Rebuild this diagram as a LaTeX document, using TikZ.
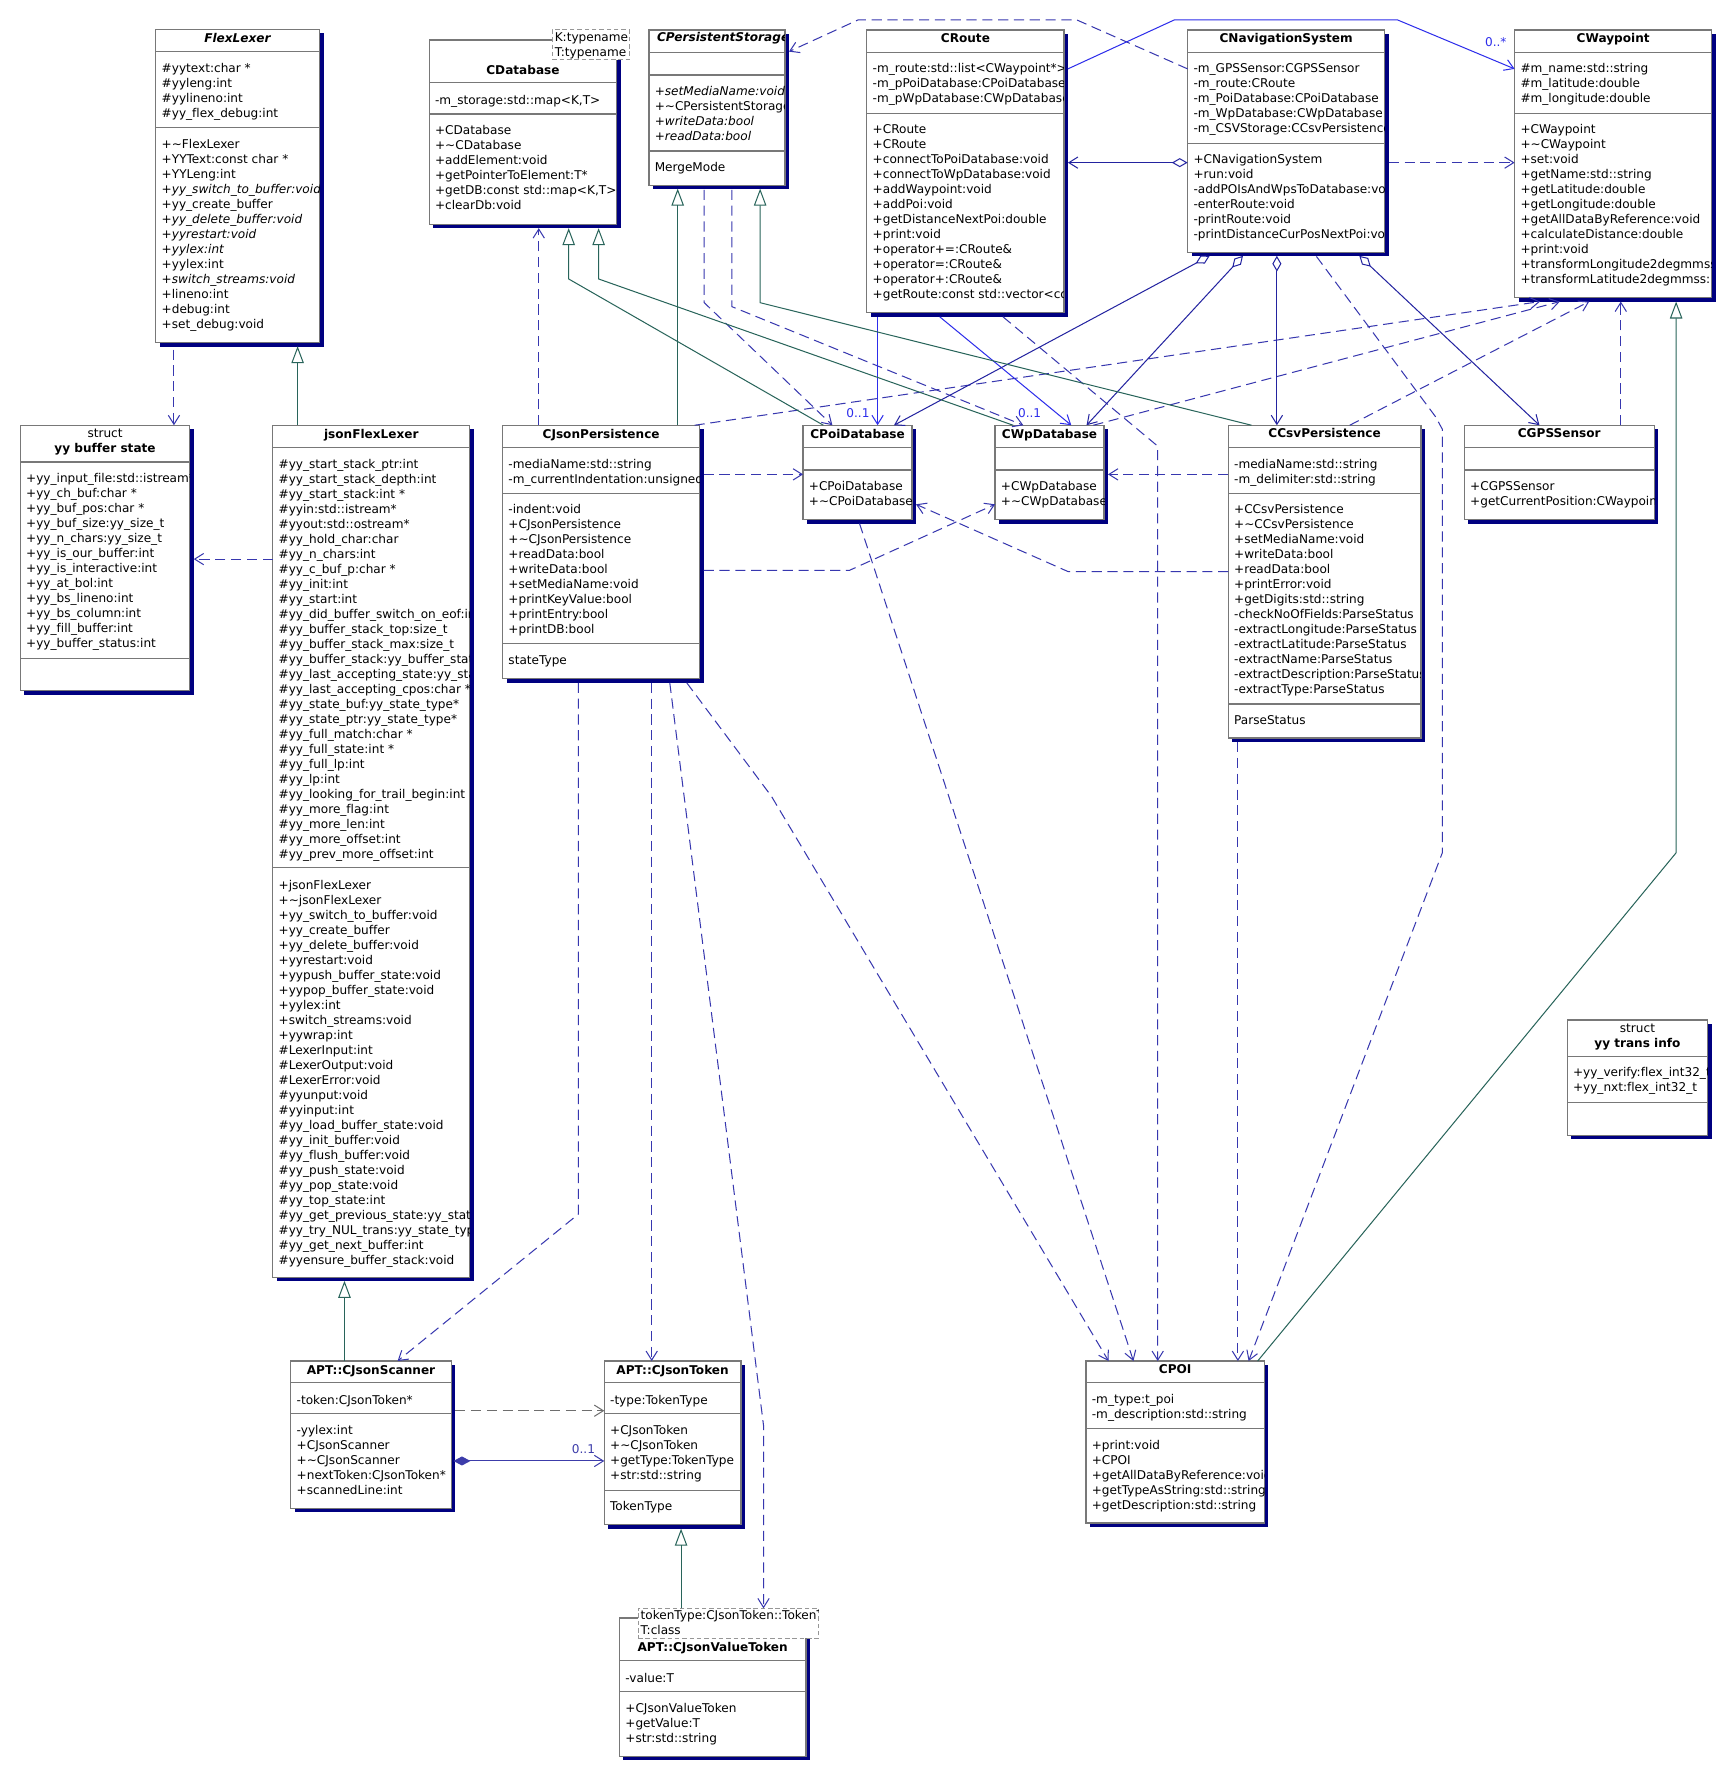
\documentclass[tikz,border=0pt]{standalone}
\usepackage{fontspec}
\setmainfont{DejaVu Sans}[Ligatures=NoCommon]
\usetikzlibrary{arrows.meta,shadows}
\definecolor{cBox}   {RGB}{120,120,120}
\definecolor{cTmpl}  {RGB}{150,150,150}
\definecolor{cShadow}{RGB}{0,  0,  128}
\definecolor{cDep}   {RGB}{55, 55, 175}
\definecolor{cAsc}   {RGB}{45, 45, 235}
\definecolor{cAgg}   {RGB}{35, 35, 160}
\definecolor{cComp}  {RGB}{60, 60, 170}
\definecolor{cGen}   {RGB}{40, 100, 90}
\definecolor{cGray}  {RGB}{110,110,110}
\newcommand{\umlfont}{\fontsize{10.7}{13.28}\selectfont}
\tikzset{
  cls/.style  = {draw=cBox, fill=white, line width=1.1pt, anchor=north west,
                 inner sep=0pt, outer sep=0pt,
                 general shadow={fill=cShadow, shadow xshift=3.5pt, shadow yshift=-3.5pt}},
  tmpl/.style = {draw=cTmpl, fill=white, line width=1pt, dash pattern=on 4pt off 2.5pt,
                 anchor=north west, inner sep=0pt, outer sep=0pt},
  sep/.style  = {draw=cBox, line width=1.1pt},
  ttl/.style  = {font=\umlfont\bfseries, anchor=base, inner sep=0pt},
  mem/.style  = {font=\umlfont, anchor=north west, align=left, inner sep=0pt},
  lbl/.style  = {font=\umlfont, text=cAsc, inner sep=0pt, anchor=base east},
  dep/.style  = {draw=cDep, line width=0.9pt, dash pattern=on 9pt off 5pt,
                 -{Straight Barb[length=8pt,width=10pt]}},
  asc/.style  = {draw=cAsc, line width=0.9pt, -{Straight Barb[length=8pt,width=10pt]}},
  agg/.style  = {draw=cAgg, line width=0.9pt,
                 {Diamond[open,length=14pt,width=8pt]}-{Straight Barb[length=8pt,width=10pt]}},
  comp/.style = {draw=cComp, line width=0.9pt,
                 {Diamond[length=15pt,width=8pt]}-{Straight Barb[length=8pt,width=10pt]}},
  gen/.style  = {draw=cGen, line width=0.9pt, -{Triangle[open,length=15pt,width=11pt]}},
}

\begin{document}
\begin{tikzpicture}[x=1pt, y=-1pt]

\fill[white] (0,0) rectangle (1528,1568);
\useasboundingbox (0,0) rectangle (1528,1568);

%% ─── FlexLexer ───────────────────────────────────────────────────
\node[cls, minimum width=145pt, minimum height=277.5pt] (fl) at (138,26) {};
\draw[sep] ([yshift=-19.8pt]fl.north west) -- ([yshift=-19.8pt]fl.north east);
\draw[sep] ([yshift=-87.2pt]fl.north west) -- ([yshift=-87.2pt]fl.north east);
\begin{scope}
  \clip (fl.north west) rectangle (fl.south east);
  \node[ttl] (fl-name) at ([yshift=-11.8pt]fl.north) {\textit{FlexLexer}};
  \node[mem] (fl-attr) at ([xshift=5pt,yshift=-28.5pt]fl.north west)
    {\strut\#yytext:char *\\\#yyleng:int\\\#yylineno:int\\\#yy\_flex\_debug:int};
  \node[mem] (fl-ops) at ([xshift=5pt,yshift=-96pt]fl.north west)
    {\strut+\textasciitilde FlexLexer\\+YYText:const char *\\+YYLeng:int\\
     +\textit{yy\_switch\_to\_buffer:void}\\+yy\_create\_buffer\\
     +\textit{yy\_delete\_buffer:void}\\+\textit{yyrestart:void}\\+\textit{yylex:int}\\
     +yylex:int\\+\textit{switch\_streams:void}\\+lineno:int\\+debug:int\\+set\_debug:void};
\end{scope}

%% ─── struct yy buffer state ─────────────────────────────────────
\node[cls, minimum width=150pt, minimum height=235pt] (ybs) at (18,376.5) {};
\draw[sep] ([yshift=-32.5pt]ybs.north west) -- ([yshift=-32.5pt]ybs.north east);
\draw[sep] ([yshift=-206.3pt]ybs.north west) -- ([yshift=-206.3pt]ybs.north east);
\begin{scope}
  \clip (ybs.north west) rectangle (ybs.south east);
  \node[ttl, font=\umlfont] (ybs-kind) at ([yshift=-10.5pt]ybs.north) {struct};
  \node[ttl] (ybs-name) at ([yshift=-23.7pt]ybs.north) {yy buffer state};
  \node[mem] (ybs-attr) at ([xshift=5pt,yshift=-41.2pt]ybs.north west)
    {\strut+yy\_input\_file:std::istream*\\+yy\_ch\_buf:char *\\+yy\_buf\_pos:char *\\
     +yy\_buf\_size:yy\_size\_t\\+yy\_n\_chars:yy\_size\_t\\+yy\_is\_our\_buffer:int\\
     +yy\_is\_interactive:int\\+yy\_at\_bol:int\\+yy\_bs\_lineno:int\\+yy\_bs\_column:int\\
     +yy\_fill\_buffer:int\\+yy\_buffer\_status:int};
\end{scope}

%% ─── CDatabase (template) ───────────────────────────────────────
\node[cls, minimum width=166pt, minimum height=163pt] (db) at (380,35.5) {};
\draw[sep] ([yshift=-37.7pt]db.north west) -- ([yshift=-37.7pt]db.north east);
\draw[sep] ([yshift=-65.5pt]db.north west) -- ([yshift=-65.5pt]db.north east);
\begin{scope}
  \clip (db.north west) rectangle (db.south east);
  \node[ttl] (db-name) at ([yshift=-30.3pt]db.north) {CDatabase};
  \node[mem] (db-attr) at ([xshift=5pt,yshift=-47.2pt]db.north west)
    {\strut-m\_storage:std::map<K,T>};
  \node[mem] (db-ops) at ([xshift=5pt,yshift=-74.4pt]db.north west)
    {\strut+CDatabase\\+\textasciitilde CDatabase\\+addElement:void\\
     +getPointerToElement:T*\\+getDB:const std::map<K,T>\\+clearDb:void};
\end{scope}
\node[tmpl, minimum width=68pt, minimum height=26.5pt] (dbT) at (489,26.5) {};
\begin{scope}
  \clip (dbT.north west) rectangle (dbT.south east);
  \node[mem] (dbT-par) at ([xshift=2pt,yshift=-0.8pt]dbT.north west)
    {\strut K:typename\\T:typename};
\end{scope}

%% ─── CPersistentStorage ─────────────────────────────────────────
\node[cls, minimum width=120.5pt, minimum height=137.5pt] (ps) at (574.5,26.5) {};
\draw[sep] ([yshift=-19.8pt]ps.north west) -- ([yshift=-19.8pt]ps.north east);
\draw[sep] ([yshift=-39.9pt]ps.north west) -- ([yshift=-39.9pt]ps.north east);
\draw[sep] ([yshift=-107.2pt]ps.north west) -- ([yshift=-107.2pt]ps.north east);
\begin{scope}
  \clip (ps.north west) rectangle (ps.south east);
  \node[ttl, anchor=base west] (ps-name) at ([xshift=7pt,yshift=-10.3pt]ps.north west)
    {\textit{CPersistentStorage}};
  \node[mem] (ps-ops) at ([xshift=5pt,yshift=-48.2pt]ps.north west)
    {\strut+\textit{setMediaName:void}\\+\textasciitilde CPersistentStorage\\
     +\textit{writeData:bool}\\+\textit{readData:bool}};
  \node[mem] (ps-enum) at ([xshift=5pt,yshift=-115.7pt]ps.north west) {\strut MergeMode};
\end{scope}

%% ─── CRoute ──────────────────────────────────────────────────────
\node[cls, minimum width=174.5pt, minimum height=250.5pt] (rt) at (767.5,26.5) {};
\draw[sep] ([yshift=-19.8pt]rt.north west) -- ([yshift=-19.8pt]rt.north east);
\draw[sep] ([yshift=-73.8pt]rt.north west) -- ([yshift=-73.8pt]rt.north east);
\begin{scope}
  \clip (rt.north west) rectangle (rt.south east);
  \node[ttl] (rt-name) at ([yshift=-11.3pt]rt.north) {CRoute};
  \node[mem] (rt-attr) at ([xshift=5pt,yshift=-28.5pt]rt.north west)
    {\strut-m\_route:std::list<CWaypoint*>\\-m\_pPoiDatabase:CPoiDatabase*\\
     -m\_pWpDatabase:CWpDatabase*};
  \node[mem] (rt-ops) at ([xshift=5pt,yshift=-82.2pt]rt.north west)
    {\strut+CRoute\\+CRoute\\+connectToPoiDatabase:void\\+connectToWpDatabase:void\\
     +addWaypoint:void\\+addPoi:void\\+getDistanceNextPoi:double\\+print:void\\
     +operator+=:CRoute\&\\+operator=:CRoute\&\\+operator+:CRoute\&\\
     +getRoute:const std::vector<co};
\end{scope}

%% ─── CNavigationSystem ──────────────────────────────────────────
\node[cls, minimum width=174.5pt, minimum height=197pt] (ns) at (1051.5,26.5) {};
\draw[sep] ([yshift=-19.8pt]ns.north west) -- ([yshift=-19.8pt]ns.north east);
\draw[sep] ([yshift=-100.4pt]ns.north west) -- ([yshift=-100.4pt]ns.north east);
\begin{scope}
  \clip (ns.north west) rectangle (ns.south east);
  \node[ttl] (ns-name) at ([yshift=-11.3pt]ns.north) {CNavigationSystem};
  \node[mem] (ns-attr) at ([xshift=5pt,yshift=-28.5pt]ns.north west)
    {\strut-m\_GPSSensor:CGPSSensor\\-m\_route:CRoute\\-m\_PoiDatabase:CPoiDatabase\\
     -m\_WpDatabase:CWpDatabase\\-m\_CSVStorage:CCsvPersistence};
  \node[mem] (ns-ops) at ([xshift=5pt,yshift=-108.7pt]ns.north west)
    {\strut+CNavigationSystem\\+run:void\\-addPOIsAndWpsToDatabase:void\\
     -enterRoute:void\\-printRoute:void\\-printDistanceCurPosNextPoi:void};
\end{scope}

%% ─── CWaypoint ───────────────────────────────────────────────────
\node[cls, minimum width=174.5pt, minimum height=237pt] (wp) at (1341,26.5) {};
\draw[sep] ([yshift=-19.8pt]wp.north west) -- ([yshift=-19.8pt]wp.north east);
\draw[sep] ([yshift=-73.8pt]wp.north west) -- ([yshift=-73.8pt]wp.north east);
\begin{scope}
  \clip (wp.north west) rectangle (wp.south east);
  \node[ttl] (wp-name) at ([yshift=-11.3pt]wp.north) {CWaypoint};
  \node[mem] (wp-attr) at ([xshift=5pt,yshift=-28.5pt]wp.north west)
    {\strut\#m\_name:std::string\\\#m\_latitude:double\\\#m\_longitude:double};
  \node[mem] (wp-ops) at ([xshift=5pt,yshift=-82.2pt]wp.north west)
    {\strut+CWaypoint\\+\textasciitilde CWaypoint\\+set:void\\+getName:std::string\\
     +getLatitude:double\\+getLongitude:double\\+getAllDataByReference:void\\
     +calculateDistance:double\\+print:void\\+transformLongitude2degmmss\\
     +transformLatitude2degmmss:};
\end{scope}

%% ─── jsonFlexLexer ───────────────────────────────────────────────
\node[cls, minimum width=174.5pt, minimum height=754.5pt] (jfl) at (241.5,376.5) {};
\draw[sep] ([yshift=-19.5pt]jfl.north west) -- ([yshift=-19.5pt]jfl.north east);
\draw[sep] ([yshift=-391.3pt]jfl.north west) -- ([yshift=-391.3pt]jfl.north east);
\begin{scope}
  \clip (jfl.north west) rectangle (jfl.south east);
  \node[ttl] (jfl-name) at ([yshift=-11.5pt]jfl.north) {jsonFlexLexer};
  \node[mem] (jfl-attr) at ([xshift=5pt,yshift=-28.5pt]jfl.north west)
    {\strut\#yy\_start\_stack\_ptr:int\\\#yy\_start\_stack\_depth:int\\
     \#yy\_start\_stack:int *\\\#yyin:std::istream*\\\#yyout:std::ostream*\\
     \#yy\_hold\_char:char\\\#yy\_n\_chars:int\\\#yy\_c\_buf\_p:char *\\\#yy\_init:int\\
     \#yy\_start:int\\\#yy\_did\_buffer\_switch\_on\_eof:int\\
     \#yy\_buffer\_stack\_top:size\_t\\\#yy\_buffer\_stack\_max:size\_t\\
     \#yy\_buffer\_stack:yy\_buffer\_state\\\#yy\_last\_accepting\_state:yy\_state\\
     \#yy\_last\_accepting\_cpos:char *\\\#yy\_state\_buf:yy\_state\_type*\\
     \#yy\_state\_ptr:yy\_state\_type*\\\#yy\_full\_match:char *\\\#yy\_full\_state:int *\\
     \#yy\_full\_lp:int\\\#yy\_lp:int\\\#yy\_looking\_for\_trail\_begin:int\\
     \#yy\_more\_flag:int\\\#yy\_more\_len:int\\\#yy\_more\_offset:int\\
     \#yy\_prev\_more\_offset:int};
  \node[mem] (jfl-ops) at ([xshift=5pt,yshift=-401.2pt]jfl.north west)
    {\strut+jsonFlexLexer\\+\textasciitilde jsonFlexLexer\\+yy\_switch\_to\_buffer:void\\
     +yy\_create\_buffer\\+yy\_delete\_buffer:void\\+yyrestart:void\\
     +yypush\_buffer\_state:void\\+yypop\_buffer\_state:void\\+yylex:int\\
     +switch\_streams:void\\+yywrap:int\\\#LexerInput:int\\\#LexerOutput:void\\
     \#LexerError:void\\\#yyunput:void\\\#yyinput:int\\\#yy\_load\_buffer\_state:void\\
     \#yy\_init\_buffer:void\\\#yy\_flush\_buffer:void\\\#yy\_push\_state:void\\
     \#yy\_pop\_state:void\\\#yy\_top\_state:int\\\#yy\_get\_previous\_state:yy\_state\\
     \#yy\_try\_NUL\_trans:yy\_state\_type\\\#yy\_get\_next\_buffer:int\\
     \#yyensure\_buffer\_stack:void};
\end{scope}

%% ─── CJsonPersistence ────────────────────────────────────────────
\node[cls, minimum width=174.5pt, minimum height=224.5pt] (jp) at (445,376.5) {};
\draw[sep] ([yshift=-19.5pt]jp.north west) -- ([yshift=-19.5pt]jp.north east);
\draw[sep] ([yshift=-60.2pt]jp.north west) -- ([yshift=-60.2pt]jp.north east);
\draw[sep] ([yshift=-193.5pt]jp.north west) -- ([yshift=-193.5pt]jp.north east);
\begin{scope}
  \clip (jp.north west) rectangle (jp.south east);
  \node[ttl] (jp-name) at ([yshift=-11.5pt]jp.north) {CJsonPersistence};
  \node[mem] (jp-attr) at ([xshift=5pt,yshift=-28.5pt]jp.north west)
    {\strut-mediaName:std::string\\-m\_currentIndentation:unsigned};
  \node[mem] (jp-ops) at ([xshift=5pt,yshift=-68.9pt]jp.north west)
    {\strut-indent:void\\+CJsonPersistence\\+\textasciitilde CJsonPersistence\\
     +readData:bool\\+writeData:bool\\+setMediaName:void\\+printKeyValue:bool\\
     +printEntry:bool\\+printDB:bool};
  \node[mem] (jp-enum) at ([xshift=5pt,yshift=-202.6pt]jp.north west) {\strut stateType};
\end{scope}

%% ─── CPoiDatabase / CWpDatabase ─────────────────────────────────
\node[cls, minimum width=96.5pt, minimum height=83.5pt] (pdb) at (711,376.5) {};
\draw[sep] ([yshift=-19.5pt]pdb.north west) -- ([yshift=-19.5pt]pdb.north east);
\draw[sep] ([yshift=-39.6pt]pdb.north west) -- ([yshift=-39.6pt]pdb.north east);
\begin{scope}
  \clip (pdb.north west) rectangle (pdb.south east);
  \node[ttl] (pdb-name) at ([yshift=-11.5pt]pdb.north) {CPoiDatabase};
  \node[mem] (pdb-ops) at ([xshift=5pt,yshift=-48.5pt]pdb.north west)
    {\strut+CPoiDatabase\\+\textasciitilde CPoiDatabase};
\end{scope}

\node[cls, minimum width=96.5pt, minimum height=83.5pt] (wdb) at (881,376.5) {};
\draw[sep] ([yshift=-19.5pt]wdb.north west) -- ([yshift=-19.5pt]wdb.north east);
\draw[sep] ([yshift=-39.6pt]wdb.north west) -- ([yshift=-39.6pt]wdb.north east);
\begin{scope}
  \clip (wdb.north west) rectangle (wdb.south east);
  \node[ttl] (wdb-name) at ([yshift=-11.5pt]wdb.north) {CWpDatabase};
  \node[mem] (wdb-ops) at ([xshift=5pt,yshift=-48.5pt]wdb.north west)
    {\strut+CWpDatabase\\+\textasciitilde CWpDatabase};
\end{scope}

%% ─── CCsvPersistence ─────────────────────────────────────────────
\node[cls, minimum width=170.5pt, minimum height=277pt] (csv) at (1087.5,376.5) {};
\draw[sep] ([yshift=-19.5pt]csv.north west) -- ([yshift=-19.5pt]csv.north east);
\draw[sep] ([yshift=-60.2pt]csv.north west) -- ([yshift=-60.2pt]csv.north east);
\draw[sep] ([yshift=-246.7pt]csv.north west) -- ([yshift=-246.7pt]csv.north east);
\begin{scope}
  \clip (csv.north west) rectangle (csv.south east);
  \node[ttl] (csv-name) at ([yshift=-11.2pt]csv.north) {CCsvPersistence};
  \node[mem] (csv-attr) at ([xshift=5pt,yshift=-28.5pt]csv.north west)
    {\strut-mediaName:std::string\\-m\_delimiter:std::string};
  \node[mem] (csv-ops) at ([xshift=5pt,yshift=-68.9pt]csv.north west)
    {\strut+CCsvPersistence\\+\textasciitilde CCsvPersistence\\+setMediaName:void\\
     +writeData:bool\\+readData:bool\\+printError:void\\+getDigits:std::string\\
     -checkNoOfFields:ParseStatus\\-extractLongitude:ParseStatus\\
     -extractLatitude:ParseStatus\\-extractName:ParseStatus\\
     -extractDescription:ParseStatus\\-extractType:ParseStatus};
  \node[mem] (csv-enum) at ([xshift=5pt,yshift=-255.7pt]csv.north west) {\strut ParseStatus};
\end{scope}

%% ─── CGPSSensor ──────────────────────────────────────────────────
\node[cls, minimum width=168pt, minimum height=83.5pt] (gps) at (1296.5,376.5) {};
\draw[sep] ([yshift=-19.5pt]gps.north west) -- ([yshift=-19.5pt]gps.north east);
\draw[sep] ([yshift=-39.6pt]gps.north west) -- ([yshift=-39.6pt]gps.north east);
\begin{scope}
  \clip (gps.north west) rectangle (gps.south east);
  \node[ttl] (gps-name) at ([yshift=-11.2pt]gps.north) {CGPSSensor};
  \node[mem] (gps-ops) at ([xshift=5pt,yshift=-48.5pt]gps.north west)
    {\strut+CGPSSensor\\+getCurrentPosition:CWaypoint};
\end{scope}

%% ─── struct yy trans info ───────────────────────────────────────
\node[cls, minimum width=124.5pt, minimum height=102pt] (yti) at (1387.5,903) {};
\draw[sep] ([yshift=-32.5pt]yti.north west) -- ([yshift=-32.5pt]yti.north east);
\draw[sep] ([yshift=-73.1pt]yti.north west) -- ([yshift=-73.1pt]yti.north east);
\begin{scope}
  \clip (yti.north west) rectangle (yti.south east);
  \node[ttl, font=\umlfont] (yti-kind) at ([yshift=-10.8pt]yti.north) {struct};
  \node[ttl] (yti-name) at ([yshift=-24pt]yti.north) {yy trans info};
  \node[mem] (yti-attr) at ([xshift=5pt,yshift=-41pt]yti.north west)
    {\strut+yy\_verify:flex\_int32\_t\\+yy\_nxt:flex\_int32\_t};
\end{scope}

%% ─── CPOI ────────────────────────────────────────────────────────
\node[cls, minimum width=158pt, minimum height=143.5pt] (poi) at (961.5,1205) {};
\draw[sep] ([yshift=-19.3pt]poi.north west) -- ([yshift=-19.3pt]poi.north east);
\draw[sep] ([yshift=-60pt]poi.north west) -- ([yshift=-60pt]poi.north east);
\begin{scope}
  \clip (poi.north west) rectangle (poi.south east);
  \node[ttl] (poi-name) at ([yshift=-11.4pt]poi.north) {CPOI};
  \node[mem] (poi-attr) at ([xshift=5pt,yshift=-28.4pt]poi.north west)
    {\strut-m\_type:t\_poi\\-m\_description:std::string};
  \node[mem] (poi-ops) at ([xshift=5pt,yshift=-68.9pt]poi.north west)
    {\strut+print:void\\+CPOI\\+getAllDataByReference:void\\
     +getTypeAsString:std::string\\+getDescription:std::string};
\end{scope}

%% ─── APT::CJsonScanner ───────────────────────────────────────────
\node[cls, minimum width=142pt, minimum height=130.5pt] (sc) at (257.5,1205) {};
\draw[sep] ([yshift=-19.3pt]sc.north west) -- ([yshift=-19.3pt]sc.north east);
\draw[sep] ([yshift=-46.2pt]sc.north west) -- ([yshift=-46.2pt]sc.north east);
\begin{scope}
  \clip (sc.north west) rectangle (sc.south east);
  \node[ttl] (sc-name) at ([yshift=-11.6pt]sc.north) {APT::CJsonScanner};
  \node[mem] (sc-attr) at ([xshift=5pt,yshift=-28.6pt]sc.north west)
    {\strut-token:CJsonToken*};
  \node[mem] (sc-ops) at ([xshift=5pt,yshift=-55.7pt]sc.north west)
    {\strut-yylex:int\\+CJsonScanner\\+\textasciitilde CJsonScanner\\
     +nextToken:CJsonToken*\\+scannedLine:int};
\end{scope}

%% ─── APT::CJsonToken ─────────────────────────────────────────────
\node[cls, minimum width=121pt, minimum height=145pt] (tk) at (535,1205) {};
\draw[sep] ([yshift=-19.3pt]tk.north west) -- ([yshift=-19.3pt]tk.north east);
\draw[sep] ([yshift=-46.2pt]tk.north west) -- ([yshift=-46.2pt]tk.north east);
\draw[sep] ([yshift=-114.6pt]tk.north west) -- ([yshift=-114.6pt]tk.north east);
\begin{scope}
  \clip (tk.north west) rectangle (tk.south east);
  \node[ttl] (tk-name) at ([yshift=-11.6pt]tk.north) {APT::CJsonToken};
  \node[mem] (tk-attr) at ([xshift=5pt,yshift=-28.6pt]tk.north west)
    {\strut-type:TokenType};
  \node[mem] (tk-ops) at ([xshift=5pt,yshift=-55.7pt]tk.north west)
    {\strut+CJsonToken\\+\textasciitilde CJsonToken\\+getType:TokenType\\+str:std::string};
  \node[mem] (tk-enum) at ([xshift=5pt,yshift=-123pt]tk.north west) {\strut TokenType};
\end{scope}

%% ─── APT::CJsonValueToken (template) ─────────────────────────────
\node[cls, minimum width=165pt, minimum height=122.5pt] (vt) at (548.5,1432.5) {};
\draw[sep] ([yshift=-37.7pt]vt.north west) -- ([yshift=-37.7pt]vt.north east);
\draw[sep] ([yshift=-65.4pt]vt.north west) -- ([yshift=-65.4pt]vt.north east);
\begin{scope}
  \clip (vt.north west) rectangle (vt.south east);
  \node[ttl] (vt-name) at ([yshift=-29.7pt]vt.north) {APT::CJsonValueToken};
  \node[mem] (vt-attr) at ([xshift=5pt,yshift=-47.5pt]vt.north west) {\strut-value:T};
  \node[mem] (vt-ops) at ([xshift=5pt,yshift=-74.3pt]vt.north west)
    {\strut+CJsonValueToken\\+getValue:T\\+str:std::string};
\end{scope}
\node[tmpl, minimum width=160pt, minimum height=26.5pt] (vtT) at (565,1424) {};
\begin{scope}
  \clip (vtT.north west) rectangle (vtT.south east);
  \node[mem] (vtT-par) at ([xshift=2pt,yshift=-0.3pt]vtT.north west)
    {\strut tokenType:CJsonToken::TokenT\\T:class};
\end{scope}

%% ─── dependencies ────────────────────────────────────────────────
\draw[dep] ([xshift=16pt,yshift=-6pt]fl.south west) -- ([xshift=136pt]ybs.north west);
\draw[dep] ([yshift=-118.5pt]jfl.north west) -- ([xshift=3.5pt,yshift=-118.5pt]ybs.north east);
\draw[dep] ([xshift=32pt]jp.north west) -- ([xshift=97pt,yshift=-3.5pt]db.south west);
\draw[dep] ([xshift=49pt,yshift=-4pt]ps.south west) -- ++(0,100) -- ([xshift=26pt]pdb.north west);
\draw[dep] ([xshift=73.5pt,yshift=-4pt]ps.south west) -- ++(0,103.5) -- ([xshift=25pt]wdb.north west);
\draw[dep] ([yshift=-34.5pt]ns.north west) -- ++(-98.5,-43.5) -- ++(-193,0)
  -- ([xshift=3.5pt,yshift=-19.2pt]ps.north east);
\draw[dep] ([xshift=3.5pt,yshift=-117.5pt]ns.north east) -- ([yshift=-117.5pt]wp.north west);
\draw[dep] ([xshift=114pt,yshift=-3.5pt]ns.south west) -- ++(105.5,142) -- ++(6,11)
  -- ++(0,375) -- ([xshift=144pt]poi.north west);
\draw[dep] ([xshift=120.5pt,yshift=-3.5pt]rt.south west) -- ++(137,114.5)
  -- ([xshift=63.5pt]poi.north west);
\draw[dep] ([xshift=50pt,yshift=-3.5pt]pdb.south west) -- ([xshift=42pt]poi.north west);
\draw[dep] ([xshift=8.5pt,yshift=-3.5pt]csv.south west) -- ([xshift=134.5pt]poi.north west);
\draw[dep] ([xshift=163pt,yshift=-3.5pt]jp.south west) -- ++(75,100.5) -- ([xshift=20pt]poi.north west);
\draw[dep] ([xshift=67pt,yshift=-3.5pt]jp.south west) -- ++(0,470.5) -- ([xshift=94.5pt]sc.north west);
\draw[dep] ([xshift=132pt,yshift=-3.5pt]jp.south west) -- ([xshift=42pt]tk.north west);
\draw[dep] ([xshift=148pt,yshift=-3.5pt]jp.south west) -- ++(83,657.5) -- ([xshift=111pt]vtT.north west);
\draw[dep] ([xshift=3.5pt,yshift=-43.5pt]jp.north east) -- ([yshift=-43.5pt]pdb.north west);
\draw[dep] ([xshift=3.5pt,yshift=-128.5pt]jp.north east) -- ++(129,0) -- ([yshift=-70pt]wdb.north west);
\draw[dep] ([yshift=-129.5pt]csv.north west) -- ++(-142,0) -- ([xshift=3.5pt,yshift=-70pt]pdb.north east);
\draw[dep] ([yshift=-43.5pt]csv.north west) -- ([xshift=3.5pt,yshift=-43.5pt]wdb.north east);
\draw[dep] ([xshift=170pt]jp.north west) -- ([xshift=22.5pt,yshift=-3.5pt]wp.south west);
\draw[dep] ([xshift=87pt]wdb.north west) -- ([xshift=40pt,yshift=-3.5pt]wp.south west);
\draw[dep] ([xshift=107.5pt]csv.north west) -- ([xshift=66pt,yshift=-3.5pt]wp.south west);
\draw[dep] ([xshift=138.5pt]gps.north west) -- ([xshift=94pt,yshift=-3.5pt]wp.south west);
\draw[dep, draw=cGray] ([xshift=3.5pt,yshift=-44pt]sc.north east) -- ([yshift=-44pt]tk.north west);

%% ─── associations ────────────────────────────────────────────────
\draw[asc] ([xshift=3.5pt,yshift=-34.5pt]rt.north east) -- ++(94.5,-43.5) -- ++(197,0)
  -- ([yshift=-34.5pt]wp.north west);
\draw[asc] ([xshift=9.5pt,yshift=-3.5pt]rt.south west) -- ([xshift=66pt]pdb.north west);
\draw[asc] ([xshift=64.5pt,yshift=-3.5pt]rt.south west) -- ([xshift=67.5pt]wdb.north west);
\draw[comp] ([xshift=2pt,yshift=-88.5pt]sc.north east) -- ([yshift=-88.5pt]tk.north west);

\node[lbl] (wp-mult) at ([xshift=-7pt,yshift=-15pt]wp.north west) {0..*};
\node[lbl] (pdb-mult) at ([xshift=59pt,yshift=6.5pt]pdb.north west) {0..1};
\node[lbl] (wdb-mult) at ([xshift=41pt,yshift=6.5pt]wdb.north west) {0..1};
\node[lbl, text=cComp] (tk-mult) at ([xshift=-8pt,yshift=-81.5pt]tk.north west) {0..1};

%% ─── aggregations (CNavigationSystem) ────────────────────────────
\draw[agg] ([yshift=-117.5pt]ns.north west) -- ([xshift=3.5pt,yshift=-117.5pt]rt.north east);
\draw[agg] ([xshift=19.5pt,yshift=-3pt]ns.south west) -- ([xshift=80.5pt]pdb.north west);
\draw[agg] ([xshift=49pt,yshift=-3pt]ns.south west) -- ([xshift=81pt]wdb.north west);
\draw[agg] ([xshift=79pt,yshift=-3pt]ns.south west) -- ([xshift=43pt]csv.north west);
\draw[agg] ([xshift=152pt,yshift=-3pt]ns.south west) -- ([xshift=66.5pt]gps.north west);

%% ─── generalizations ─────────────────────────────────────────────
\draw[gen] ([xshift=22pt]jfl.north west) -- ([xshift=125.5pt,yshift=-3pt]fl.south west);
\draw[gen] ([xshift=47.5pt]sc.north west) -- ([xshift=63.5pt,yshift=-3pt]jfl.south west);
\draw[gen] ([xshift=155pt]jp.north west) -- ([xshift=25.5pt,yshift=-3pt]ps.south west);
\draw[gen] ([xshift=20.5pt]csv.north west) -- ([xshift=98.5pt,yshift=-104pt]ps.south west)
  -- ([xshift=98.5pt,yshift=-3pt]ps.south west);
\draw[gen] ([xshift=18pt]pdb.north west) -- ([xshift=123.5pt,yshift=-48.5pt]db.south west)
  -- ([xshift=123.5pt,yshift=-3.5pt]db.south west);
\draw[gen] ([xshift=16pt]wdb.north west) -- ([xshift=150pt,yshift=-48.5pt]db.south west)
  -- ([xshift=150pt,yshift=-3.5pt]db.south west);
\draw[gen] ([xshift=38pt]vtT.north west) -- ([xshift=68pt,yshift=-3.5pt]tk.south west);
\draw[gen] ([xshift=152pt]poi.north west) -- ([xshift=143pt,yshift=-491.5pt]wp.south west)
  -- ([xshift=143pt,yshift=-3.5pt]wp.south west);

\end{tikzpicture}
\end{document}
